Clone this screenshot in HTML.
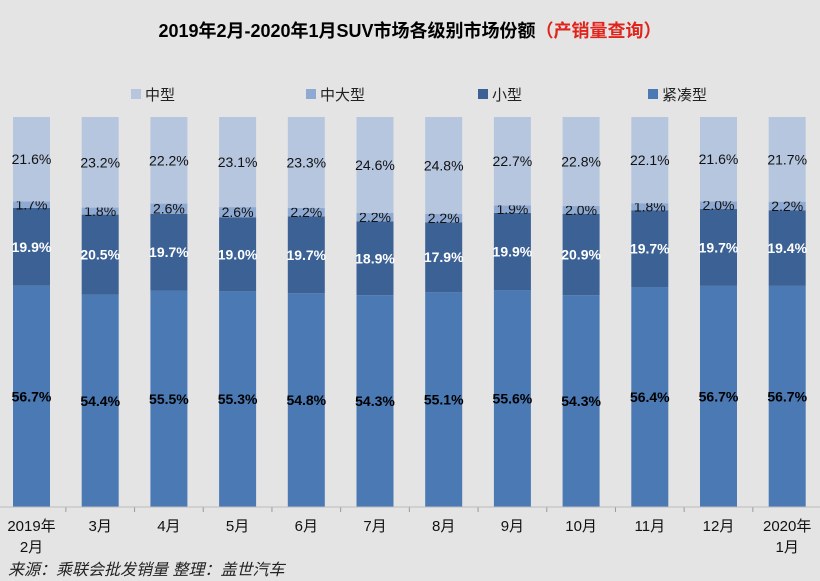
<!DOCTYPE html>
<html><head><meta charset="utf-8"><style>
body{margin:0;background:#e4e4e4;}
svg{display:block;font-family:"Liberation Sans","Noto Sans CJK SC",sans-serif;}
</style></head><body>
<svg id="c" width="820" height="581">
<rect width="820" height="581" fill="#e4e4e4"/>
<text x="410" y="37" text-anchor="middle" font-size="18" font-weight="bold">2019年2月-2020年1月SUV市场各级别市场份额<tspan fill="#e0241c">（产销量查询）</tspan></text>
<g id="legend"></g>
<g id="bars"></g>
<line x1="0" y1="507" x2="820" y2="507" stroke="#bbb"/>
<g id="xl"></g>
<text x="8" y="575" font-size="16" font-style="italic" fill="#222">来源：乘联会批发销量  整理：盖世汽车</text>
</svg>
<script>
const categories=["2019年|2月","3月","4月","5月","6月","7月","8月","9月","10月","11月","12月","2020年|1月"];
const compact=[56.7,54.4,55.5,55.3,54.8,54.3,55.1,55.6,54.3,56.4,56.7,56.7];
const small=[19.9,20.5,19.7,19.0,19.7,18.9,17.9,19.9,20.9,19.7,19.7,19.4];
const midLarge=[1.7,1.8,2.6,2.6,2.2,2.2,2.2,1.9,2.0,1.8,2.0,2.2];
const mid=[21.6,23.2,22.2,23.1,23.3,24.6,24.8,22.7,22.8,22.1,21.6,21.7];
const seriesNames=["紧凑型","小型","中大型","中型"];
const NS="http://www.w3.org/2000/svg";
const colors=["#4a79b4","#3b6195","#8eaad2","#b6c6df"];
const textCol=["#000","#fff","#111","#111"];
const bold=[true,true,false,false];
const plotTop=117,plotBottom=507,pitch=68.7,x0=31.5,bw=37;
function xC(i){return x0+i*pitch;}
function mk(tag,attrs,parent){const e=document.createElementNS(NS,tag);for(const k in attrs)e.setAttribute(k,attrs[k]);parent.appendChild(e);return e;}
const gb=document.getElementById('bars');
const data=[compact,small,midLarge,mid];
categories.forEach((c,i)=>{
  const tot=data.reduce((s,a)=>s+a[i],0);
  const yS=v=>v/tot*(plotBottom-plotTop);
  let y=plotBottom;
  data.forEach((arr,s)=>{
    const h=yS(arr[i]);
    const r=mk('rect',{x:xC(i)-bw/2,y:y-h,width:bw,height:h,fill:colors[s]},gb);
    
    
    const t=mk('text',{x:xC(i),y:y-h/2+5,'text-anchor':'middle','font-size':'14',fill:textCol[s],'font-weight':bold[s]?'bold':'normal'},gb);
    t.textContent=arr[i].toFixed(1)+'%';
    
    
    y-=h;
  });
  const tk=mk('line',{x1:xC(i)+pitch/2,y1:507,x2:xC(i)+pitch/2,y2:512,stroke:'#999'},gb);
  
  
  const parts=c.split('|');
  const xl=document.getElementById('xl');
  parts.forEach((p,k)=>{
    const t=mk('text',{x:xC(i),y:531+k*21,'text-anchor':'middle','font-size':'15',fill:'#111'},xl);
    t.textContent=p;
    
    
  });
});
const lg=document.getElementById('legend');
const lx=[131,306,478,648];
[3,2,1,0].forEach((s,k)=>{
  const r=mk('rect',{x:lx[k],y:89,width:10,height:10,fill:colors[s]},lg);
  
  
  const t=mk('text',{x:lx[k]+14,y:100,'font-size':'15',fill:'#222'},lg);
  t.textContent=seriesNames[s];
  
  
});
</script>
</body></html>
